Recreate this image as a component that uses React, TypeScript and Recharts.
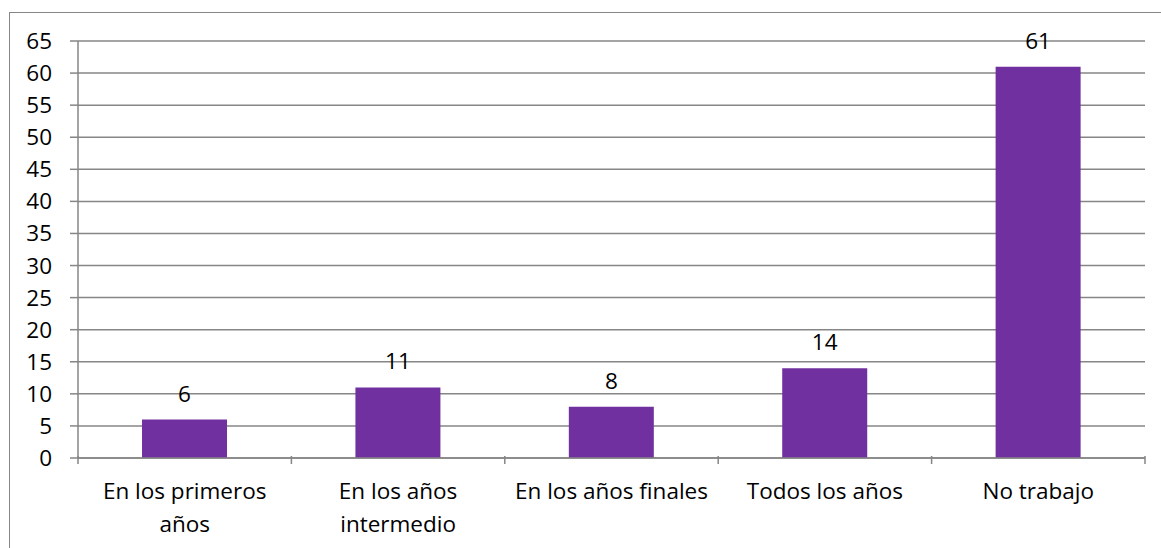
import React from 'react';
import { BarChart, Bar, XAxis, YAxis, CartesianGrid, LabelList } from 'recharts';

const categories = ['primeros', 'intermedio', 'finales', 'todos', 'no'];
const labelLines = [
  ['En los primeros', 'años'],
  ['En los años', 'intermedio'],
  ['En los años finales'],
  ['Todos los años'],
  ['No trabajo'],
];
const values = [6, 11, 8, 14, 61];
const yTicks = [0, 5, 10, 15, 20, 25, 30, 35, 40, 45, 50, 55, 60, 65];

const data = categories.map((c, i) => ({ name: c, value: values[i] }));

const FONT = '"Open Sans", sans-serif';
const GRAY = '#868686';

const CategoryTick = (props: any) => {
  const { x, y, payload, index } = props;
  const half = payload && payload.offset ? payload.offset : 106.7;
  const lines = labelLines[index] || [];
  const last = index === categories.length - 1;
  return (
    <g>
      <line x1={x - half} y1={y - 10} x2={x - half} y2={y - 2} stroke={GRAY} strokeWidth={1.5} />
      {last && <line x1={x + half} y1={y - 10} x2={x + half} y2={y - 2} stroke={GRAY} strokeWidth={1.5} />}
      {lines.map((t, i) => (
        <text key={i} x={x} y={y + 33 + i * 33} textAnchor="middle" fontSize={22.5} fill="#000" fontFamily={FONT}>
          {t}
        </text>
      ))}
    </g>
  );
};

const App = () => {
  return (
    <div style={{ position: 'absolute', left: 0, top: 0, width: 1161, height: 548, overflow: 'hidden', background: '#fff' }}>
      <div style={{ position: 'absolute', left: 9, top: 12, width: 1200, height: 600, border: `1px solid ${GRAY}` }} />
      <div style={{ position: 'absolute', left: 0, top: 0 }}>
        <BarChart
          width={1161}
          height={548}
          data={data}
          margin={{ top: 41, right: 16, left: 0, bottom: 0 }}
          barCategoryGap="30%"
        >
          <CartesianGrid horizontal vertical={false} stroke={GRAY} strokeWidth={1.5} />
          <XAxis
            dataKey="name"
            height={90}
            axisLine={{ stroke: GRAY, strokeWidth: 1.5 }}
            tickLine={false}
            tick={<CategoryTick />}
            interval={0}
          />
          <YAxis
            width={78}
            domain={[0, 65]}
            ticks={yTicks}
            interval={0}
            axisLine={{ stroke: GRAY, strokeWidth: 1.5 }}
            tickLine={{ stroke: GRAY, strokeWidth: 1.5 }}
            tickSize={8}
            tickMargin={18}
            tick={{ fontSize: 22.5, fill: '#000', fontFamily: FONT }}
          />
          <Bar dataKey="value" fill="#7030A0" isAnimationActive={false}>
            <LabelList dataKey="value" position="top" offset={18} fontSize={22.5} fill="#000" fontFamily={FONT} />
          </Bar>
        </BarChart>
      </div>
    </div>
  );
};

export default App;
